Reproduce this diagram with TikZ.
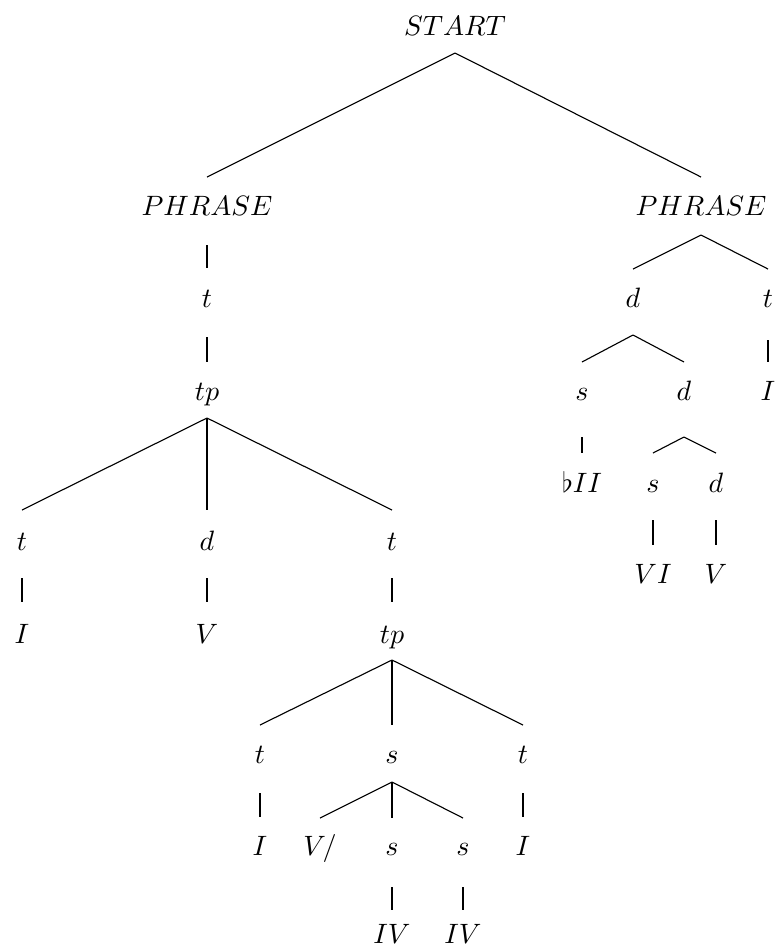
\documentclass[tikz,border=0pt]{standalone}
\usetikzlibrary{calc}
\newcommand\tedge[4]{\draw ($(#1.base)+(0,#3)$) -- ($(#2.base)+(0,-#4)$);}
\begin{document}
\begin{tikzpicture}[x=0.35714pt,y=-0.35714pt,
  lab/.style={anchor=base,inner sep=0pt,outer sep=0pt},
  line width=0.4pt]
\useasboundingbox (0,0) rectangle (775,949);
% nodes
\node[lab] (start) at (455,35) {$START$};
\node[lab] (phl) at (207,215) {$PHRASE$};
\node[lab] (phr) at (701,215) {$PHRASE$};
% left subtree
\node[lab] (lt) at (207,307) {$t$};
\node[lab] (ltp) at (207,400) {$tp$};
\node[lab] (lt1) at (22,550) {$t$};
\node[lab] (ld1) at (207,550) {$d$};
\node[lab] (lt2) at (392,550) {$t$};
\node[lab] (lI1) at (22,643) {$I$};
\node[lab] (lV1) at (207,643) {$V$};
\node[lab] (ltp2) at (392,643) {$tp$};
\node[lab] (mt1) at (260,763) {$t$};
\node[lab] (ms) at (392,763) {$s$};
\node[lab] (mt2) at (523,763) {$t$};
\node[lab] (mI1) at (260,855) {$I$};
\node[lab] (mV) at (320,855) {$V/$};
\node[lab] (ms1) at (392,855) {$s$};
\node[lab] (ms2) at (463,855) {$s$};
\node[lab] (mI2) at (523,855) {$I$};
\node[lab] (mIV1) at (392,943) {$IV$};
\node[lab] (mIV2) at (463,943) {$IV$};
% right subtree
\node[lab] (rd) at (633,307) {$d$};
\node[lab] (rt) at (768,307) {$t$};
\node[lab] (rs) at (582,400) {$s$};
\node[lab] (rd2) at (684,400) {$d$};
\node[lab] (rI) at (768,400) {$I$};
\node[lab] (rbII) at (582,492) {$\flat II$};
\node[lab] (rs2) at (653,492) {$s$};
\node[lab] (rd3) at (716,492) {$d$};
\node[lab] (rVI) at (653,583) {$VI$};
\node[lab] (rV) at (716,583) {$V$};
% edges
\tedge{start}{phl}{18}{38}
\tedge{start}{phr}{18}{38}
\tedge{phl}{lt}{30}{39}
\tedge{lt}{ltp}{30}{38}
\tedge{ltp}{lt1}{18}{40}
\tedge{ltp}{ld1}{18}{40}
\tedge{ltp}{lt2}{18}{40}
\tedge{lt1}{lI1}{28}{41}
\tedge{ld1}{lV1}{28}{41}
\tedge{lt2}{ltp2}{28}{41}
\tedge{ltp2}{mt1}{17}{38}
\tedge{ltp2}{ms}{17}{38}
\tedge{ltp2}{mt2}{17}{38}
\tedge{mt1}{mI1}{30}{38}
\tedge{ms}{mV}{19}{37}
\tedge{ms}{ms1}{19}{37}
\tedge{ms}{ms2}{19}{37}
\tedge{mt2}{mI2}{30}{38}
\tedge{ms1}{mIV1}{32}{33}
\tedge{ms2}{mIV2}{32}{33}
\tedge{phr}{rd}{20}{38}
\tedge{phr}{rt}{20}{38}
\tedge{rd}{rs}{28}{38}
\tedge{rd}{rd2}{28}{38}
\tedge{rt}{rI}{33}{38}
\tedge{rs}{rbII}{37}{39}
\tedge{rd2}{rs2}{37}{39}
\tedge{rd2}{rd3}{37}{39}
\tedge{rs2}{rVI}{28}{38}
\tedge{rd3}{rV}{28}{38}
\end{tikzpicture}
\end{document}
